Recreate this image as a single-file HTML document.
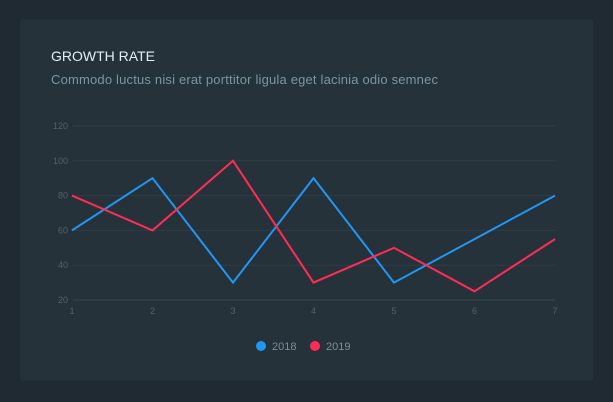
<!DOCTYPE html>
<html><head><meta charset="utf-8"><style>
body{margin:0;width:613px;height:402px;background:#1f2a32;font-family:"Liberation Sans",sans-serif;overflow:hidden}
.card{position:absolute;left:20px;top:19px;width:573px;height:362px;background:#263239;border-radius:3px}
</style></head><body>
<div class="card"></div>
<svg width="613" height="402" style="position:absolute;left:0;top:0">
<text x="51" y="61" fill="#e3eef4" font-size="14">GROWTH RATE</text>
<text x="51" y="84" fill="#7c95a5" font-size="13" textLength="387">Commodo luctus nisi erat porttitor ligula eget lacinia odio semnec</text>
<g id="grid"></g><g id="lines"></g>
<g>
<g><circle cx="261" cy="346" r="5" fill="#2196f3"/><text x="272" y="350" fill="#7c8d99" font-size="11">2018</text></g>
<g><circle cx="315" cy="346" r="5" fill="#ff2d55"/><text x="326" y="350" fill="#7c8d99" font-size="11">2019</text></g>
</g>
</svg>
<script>
const categories=[1,2,3,4,5,6,7];
const yTicks=[20,40,60,80,100,120];
const s2018=[60,90,30,90,30,55,80];
const s2019=[80,60,100,30,50,25,55];
const NS="http://www.w3.org/2000/svg";
const xs=i=>72+i*80.5, ys=v=>300-(v-20)*1.74;
const grid=document.getElementById('grid'), lines=document.getElementById('lines');
function mk(t,a,p){const e=document.createElementNS(NS,t);for(const k in a)e.setAttribute(k,a[k]);p.appendChild(e);return e;}
yTicks.forEach(v=>{
 const l=mk('line',{x1:73,x2:555,y1:ys(v),y2:ys(v),stroke:v==20?'#34444f':'#2f3d47','stroke-width':1},grid);
 
 
 const t=mk('text',{x:68,y:ys(v)+3,fill:'#4f6270','font-size':9,'text-anchor':'end'},grid);t.textContent=v;
 
 
});
categories.forEach((c,i)=>{
 const t=mk('text',{x:xs(i),y:314,fill:'#4f6270','font-size':9,'text-anchor':'middle'},grid);t.textContent=c;
 
 
});
[[s2018,'#2196f3','line-2018'],[s2019,'#ff2d55','line-2019']].forEach(([s,c,n])=>{
 const p=mk('polyline',{points:s.map((v,i)=>xs(i)+','+ys(v)).join(' '),fill:'none',stroke:c,'stroke-width':2,'stroke-linejoin':'miter'},lines);
 
 
});
</script>
</body></html>
